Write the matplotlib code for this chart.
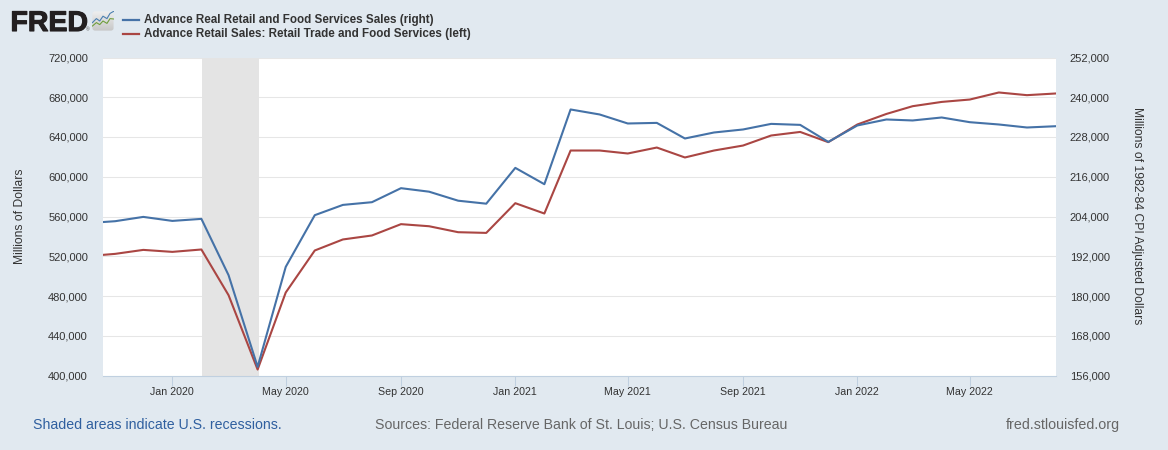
import numpy as np
import pandas as pd
import matplotlib
matplotlib.use('Agg')
import matplotlib.pyplot as plt
import matplotlib.dates as mdates
from matplotlib.patches import FancyBboxPatch
from matplotlib.ticker import FixedLocator, FuncFormatter
import matplotlib.patheffects as pe

plt.rcParams['font.family'] = ['Liberation Sans', 'DejaVu Sans']

# monthly, Oct 2019 - Aug 2022
months = pd.date_range('2019-10-01', '2022-08-01', freq='MS')
real_sales = [201980, 202580, 203880, 202670, 203280, 186280, 158600, 188790, 204400,
              207500, 208320, 212550, 211490, 208770, 207870, 218680, 213750, 236310,
              234800, 232080, 232260, 227550, 229360, 230270, 231960, 231660, 226520,
              231480, 233290, 232990, 233890, 232470, 231780, 230870, 231260]
retail_sales = [520000, 522400, 526400, 524400, 526800, 480800, 406000, 483500, 525800,
                536900, 540900, 552300, 550200, 544200, 543500, 573400, 563000, 626400,
                626400, 623400, 629400, 619400, 626400, 631400, 641500, 645100, 634800,
                652600, 663200, 671000, 675300, 677700, 684800, 682100, 683800]

left_ticks = [400000, 440000, 480000, 520000, 560000, 600000, 640000, 680000, 720000]
right_ticks = [156000, 168000, 180000, 192000, 204000, 216000, 228000, 240000, 252000]
date_ticks = ['2020-01-01', '2020-05-01', '2020-09-01', '2021-01-01', '2021-05-01',
              '2021-09-01', '2022-01-01', '2022-05-01']
recession = ('2020-02-02', '2020-04-02')

label_real = 'Advance Real Retail and Food Services Sales (right)'
label_retail = 'Advance Retail Sales: Retail Trade and Food Services (left)'

BG = '#e1e9f0'
BLUE = '#4572a7'
RED = '#aa4643'
TEXT = '#333333'
AXIS = '#c0d0e0'
W, H = 1168, 450

fig = plt.figure(figsize=(W / 100, H / 100), dpi=100, facecolor=BG)
ax = fig.add_axes([103 / W, (H - 375.5) / H, 953 / W, 318 / H])
ax.set_facecolor('white')

# shaded recession sits above the grid but below the lines
ax.axvspan(pd.Timestamp(recession[0]), pd.Timestamp(recession[1]), color='#e4e4e4', lw=0, zorder=1.5)
ax.plot(months, retail_sales, color=RED, lw=1.5, zorder=3)
ax.set_ylim(left_ticks[0], left_ticks[-1])
ax.set_xlim(pd.Timestamp('2019-10-19'), pd.Timestamp('2022-08-01'))

ax2 = ax.twinx()
ax2.plot(months, real_sales, color=BLUE, lw=1.5, zorder=3)
ax2.set_ylim(right_ticks[0], right_ticks[-1])

fmt = FuncFormatter(lambda v, p: f'{int(v):,}')
ax.yaxis.set_major_locator(FixedLocator(left_ticks))
ax.yaxis.set_major_formatter(fmt)
ax2.yaxis.set_major_locator(FixedLocator(right_ticks))
ax2.yaxis.set_major_formatter(fmt)
ax.grid(axis='y', color='#e6e6e6', lw=0.75)
ax.set_axisbelow(True)

ax.xaxis.set_major_locator(FixedLocator(mdates.date2num(pd.to_datetime(date_ticks))))
ax.xaxis.set_major_formatter(mdates.DateFormatter('%b %Y'))
ax.tick_params(axis='x', length=7.2, width=0.75, color=AXIS, labelsize=7.7, labelcolor=TEXT, pad=1)
ax.tick_params(axis='y', length=0, labelsize=8, labelcolor=TEXT, pad=10.8)
ax2.tick_params(axis='y', length=0, labelsize=8, labelcolor=TEXT, pad=10)

for a in (ax, ax2):
    for name, spine in a.spines.items():
        spine.set_visible(name == 'bottom')
    a.spines['bottom'].set_color(AXIS)
    a.spines['bottom'].set_linewidth(0.75)

fig.text(20 / W, 1 - 216 / H, 'Millions of Dollars', rotation=90, ha='center', va='center',
         fontsize=8.75, color=TEXT)
fig.text(1137 / W, 1 - 216 / H, 'Millions of 1982-84 CPI Adjusted Dollars', rotation=270,
         ha='center', va='center', fontsize=8.75, color=TEXT)

# legend, drawn by hand like the FRED header
fig.add_artist(plt.Line2D([123 / W, 139 / W], [1 - 20 / H] * 2, color=BLUE, lw=1.6))
fig.add_artist(plt.Line2D([123 / W, 139 / W], [1 - 34 / H] * 2, color=RED, lw=1.6))
fig.text(144 / W, 1 - 20.5 / H, label_real, fontsize=8.42, fontweight='bold', color=TEXT, va='center')
fig.text(144 / W, 1 - 34.5 / H, label_retail, fontsize=8.42, fontweight='bold', color=TEXT, va='center')

# logo
fig.text(10.5 / W, 1 - 31 / H, 'FRED', fontsize=20.5, fontweight='bold', color='#231f20', va='baseline',
         path_effects=[pe.withStroke(linewidth=0.8, foreground='#231f20')])
fig.text(86 / W, 1 - 31 / H, '®', fontsize=3.5, color='#555555', va='baseline')
icon = fig.add_axes([92 / W, 1 - 31 / H, 22 / W, 20 / H])
icon.set_xlim(0, 1)
icon.set_ylim(0, 1)
icon.axis('off')
box = FancyBboxPatch((0.02, 0.02), 0.96, 0.96, boxstyle='round,pad=0,rounding_size=0.12', fc='none', ec='none')
icon.add_patch(box)
grad = icon.imshow(np.linspace(0.93, 0.78, 20).reshape(-1, 1), extent=(0, 1, 0, 1), aspect='auto',
                   cmap='gray', vmin=0, vmax=1)
grad.set_clip_path(box)
icon.plot([0.02, 0.2, 0.35, 0.5, 0.68, 0.82, 0.98], [0.42, 0.62, 0.5, 0.74, 0.62, 0.88, 0.98], color='#4a7fb0', lw=0.8)
icon.plot([0.02, 0.2, 0.35, 0.5, 0.68, 0.82, 0.98], [0.25, 0.42, 0.32, 0.5, 0.38, 0.62, 0.6], color='#6f9e3c', lw=0.8)

# footer
fig.text(33 / W, 1 - 425 / H, 'Shaded areas indicate U.S. recessions.', fontsize=10.15, color='#2f5f9f', va='center')
fig.text(375 / W, 1 - 425 / H, 'Sources: Federal Reserve Bank of St. Louis; U.S. Census Bureau', fontsize=10.2,
         color='#666666', va='center')
fig.text(1120 / W, 1 - 425 / H, 'fred.stlouisfed.org', fontsize=10.3, color='#666666', va='center', ha='right')

fig.savefig('out.png', dpi=100, facecolor=BG)
